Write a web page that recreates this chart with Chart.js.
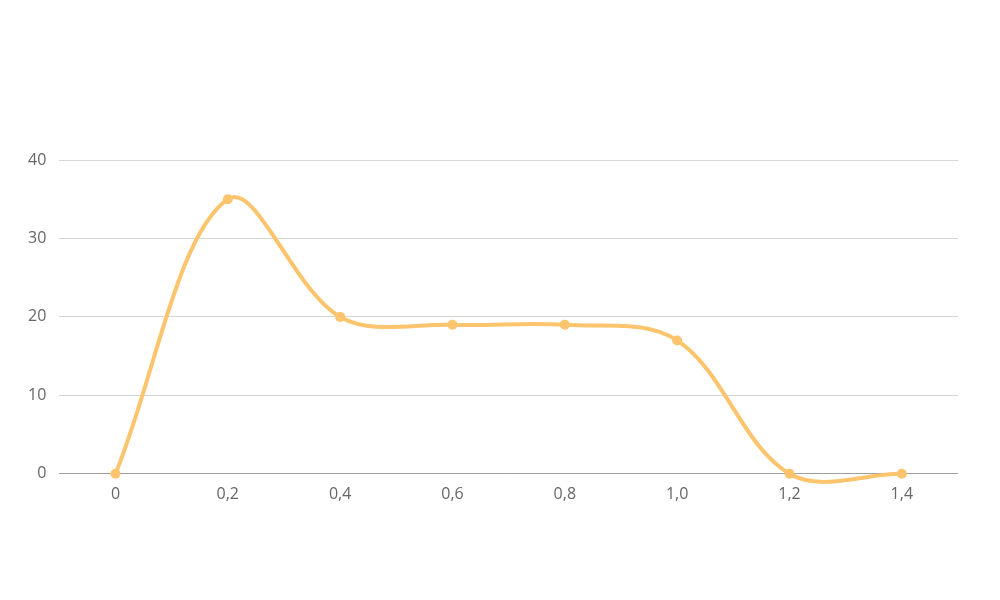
<!DOCTYPE html>
<html>
<head>
<meta charset="utf-8">
<script src="https://cdn.jsdelivr.net/npm/chart.js@4"></script>
<style>
  html, body { margin: 0; padding: 0; background: #fff; }
  #wrap { width: 1000px; height: 600px; }
</style>
</head>
<body>
<div id="wrap"><canvas id="chart" width="1000" height="600"></canvas></div>
<script>
// chart data
const xLabels = ["0", "0,2", "0,4", "0,6", "0,8", "1,0", "1,2", "1,4"];
const seriesValues = [0, 35, 20, 19, 19, 17, 0, 0];
const yTicks = [0, 10, 20, 30, 40];

const lineColor = "#fcc46c";

const ctx = document.getElementById("chart").getContext("2d");
new Chart(ctx, {
  type: "line",
  data: {
    labels: xLabels,
    datasets: [
      {
        data: seriesValues,
        borderColor: lineColor,
        backgroundColor: lineColor,
        borderWidth: 4,
        pointRadius: 5,
        pointBorderWidth: 0,
        pointBackgroundColor: lineColor,
        tension: 0.35,
        fill: false,
        clip: false,
      },
    ],
  },
  options: {
    responsive: false,
    animation: false,
    layout: { padding: { top: 160, right: 42, bottom: 85, left: 15 } },
    elements: { line: { capBezierPoints: false } },
    plugins: {
      legend: { display: false },
      tooltip: { enabled: false },
    },
    scales: {
      x: {
        offset: true,
        grid: { display: false, drawTicks: false },
        border: { display: false },
        ticks: {
          color: "#666",
          padding: 11,
          font: { family: "Open Sans", size: 16 },
        },
      },
      y: {
        min: 0,
        max: 40,
        afterBuildTicks: (axis) => {
          axis.ticks = yTicks.map((v) => ({ value: v }));
        },
        grid: {
          drawTicks: false,
          lineWidth: 1,
          color: (c) => (c.tick && c.tick.value === 0 ? "#9e9e9e" : "#d6d6d6"),
        },
        border: { display: false },
        ticks: {
          color: "#666",
          padding: 13,
          font: { family: "Open Sans", size: 16 },
        },
      },
    },
  },
});
</script>
</body>
</html>
